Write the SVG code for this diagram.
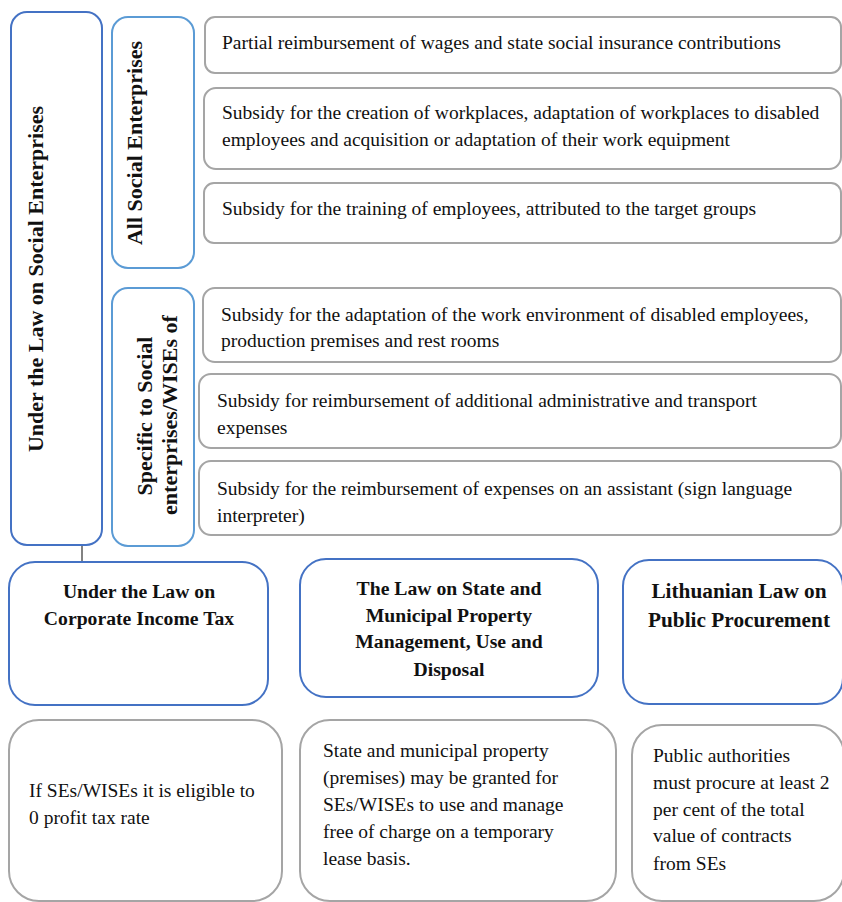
<svg xmlns="http://www.w3.org/2000/svg" width="842" height="902" viewBox="0 0 842 902">
<style>
.blue{fill:#fff;stroke:#4472C4;stroke-width:2}
.lblue{fill:#fff;stroke:#5B9BD5;stroke-width:2}
.gray{fill:#fff;stroke:#A5A5A5;stroke-width:2}
text{font-family:"Liberation Serif","Times New Roman",serif;fill:#111}
.t{font-size:19.5px}
.h{font-size:19.7px;font-weight:bold}
.hv{font-size:22px;font-weight:bold}
.hl{font-size:21.3px;font-weight:bold}
</style>
<rect width="842" height="902" fill="#fff"/>
<g id="connectors">
<line x1="82" y1="545" x2="82" y2="566" stroke="#595959" stroke-width="1.5"/>
</g>
<g id="law-se">
<rect class="blue" x="11" y="12" width="91" height="533" rx="16"/>
<text class="hv" transform="rotate(-90 43 279)" x="43" y="279" text-anchor="middle">Under the Law on Social Enterprises</text>
</g>
<g id="all-se">
<rect class="lblue" x="112" y="17" width="82" height="251" rx="16"/>
<text class="hv" transform="rotate(-90 142 143)" x="142" y="143" text-anchor="middle">All Social Enterprises</text>
</g>
<g id="specific-se">
<rect class="lblue" x="112" y="288" width="82" height="258" rx="16"/>
<text class="hv" transform="rotate(-90 152 416)" x="152" y="416" text-anchor="middle">Specific to Social</text>
<text class="hv" transform="rotate(-90 177 415)" x="177" y="415" text-anchor="middle">enterprises/WISEs of</text>
</g>
<g id="b1">
<rect class="gray" x="205" y="17" width="636" height="56" rx="10"/>
<text class="t" x="222" y="49">Partial reimbursement of wages and state social insurance contributions</text>
</g>
<g id="b2">
<rect class="gray" x="204" y="88" width="637" height="81" rx="12"/>
<text class="t" x="222" y="119">Subsidy for the creation of workplaces, adaptation of workplaces to disabled</text>
<text class="t" x="222" y="146">employees and acquisition or adaptation of their work equipment</text>
</g>
<g id="b3">
<rect class="gray" x="204" y="183" width="637" height="60" rx="10"/>
<text class="t" x="222" y="215">Subsidy for the training of employees, attributed to the target groups</text>
</g>
<g id="b4">
<rect class="gray" x="203" y="288" width="638" height="74" rx="12"/>
<text class="t" x="221" y="321">Subsidy for the adaptation of the work environment of disabled employees,</text>
<text class="t" x="221" y="347">production premises and rest rooms</text>
</g>
<g id="b5">
<rect class="gray" x="199" y="374" width="642" height="74" rx="12"/>
<text class="t" x="217" y="407">Subsidy for reimbursement of additional administrative and transport</text>
<text class="t" x="217" y="434">expenses</text>
</g>
<g id="b6">
<rect class="gray" x="199" y="461" width="642" height="74" rx="12"/>
<text class="t" x="217" y="495">Subsidy for the reimbursement of expenses on an assistant (sign language</text>
<text class="t" x="217" y="522">interpreter)</text>
</g>
<g id="law-cit">
<rect class="blue" x="9" y="562" width="259" height="143" rx="26"/>
<text class="h" x="139" y="598" text-anchor="middle">Under the Law on</text>
<text class="h" x="139" y="625" text-anchor="middle">Corporate Income Tax</text>
</g>
<g id="law-property">
<rect class="blue" x="300" y="559" width="298" height="138" rx="26"/>
<text class="h" x="449" y="595" text-anchor="middle">The Law on State and</text>
<text class="h" x="449" y="622" text-anchor="middle">Municipal Property</text>
<text class="h" x="449" y="648" text-anchor="middle">Management, Use and</text>
<text class="h" x="449" y="676" text-anchor="middle">Disposal</text>
</g>
<g id="law-procurement">
<rect class="blue" x="623" y="560" width="220" height="144" rx="26"/>
<text class="hl" x="739" y="598" text-anchor="middle">Lithuanian Law on</text>
<text class="hl" x="739" y="627" text-anchor="middle">Public Procurement</text>
</g>
<g id="desc-cit">
<rect class="gray" x="9" y="720" width="273" height="181" rx="30"/>
<text class="t" x="29" y="797">If SEs/WISEs it is eligible to</text>
<text class="t" x="29" y="824">0 profit tax rate</text>
</g>
<g id="desc-property">
<rect class="gray" x="300" y="720" width="316" height="181" rx="30"/>
<text class="t" x="323" y="757">State and municipal property</text>
<text class="t" x="323" y="784">(premises) may be granted for</text>
<text class="t" x="323" y="811">SEs/WISEs to use and manage</text>
<text class="t" x="323" y="838">free of charge on a temporary</text>
<text class="t" x="323" y="865">lease basis.</text>
</g>
<g id="desc-procurement">
<rect class="gray" x="632" y="725" width="212" height="176" rx="30"/>
<text class="t" x="653" y="762">Public authorities</text>
<text class="t" x="653" y="789">must procure at least 2</text>
<text class="t" x="653" y="816">per cent of the total</text>
<text class="t" x="653" y="842">value of contracts</text>
<text class="t" x="653" y="870">from SEs</text>
</g>
</svg>
